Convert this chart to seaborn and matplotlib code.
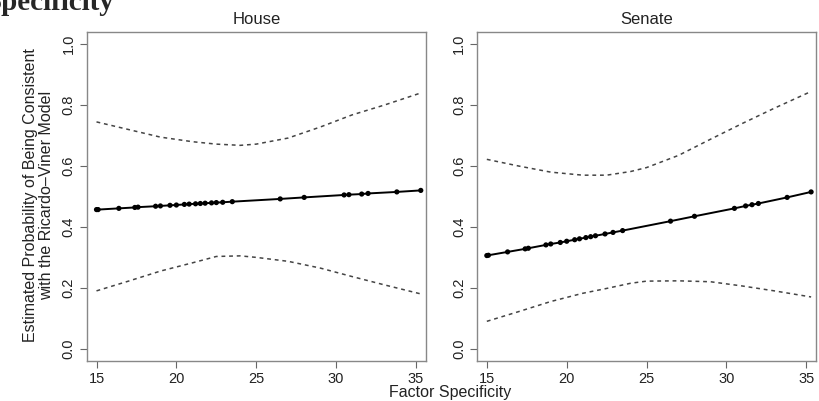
import numpy as np
import pandas as pd
import matplotlib
matplotlib.use("Agg")
import matplotlib.pyplot as plt
import seaborn as sns

# fitted line with observed factor specificity values
house_x = [15.0, 15.1, 16.4, 17.4, 17.6, 18.7, 19.0, 19.6, 20.0, 20.5, 20.8, 21.2, 21.5,
           21.8, 22.2, 22.5, 22.9, 23.5, 26.5, 28.0, 30.5, 30.8, 31.6, 32.0, 33.8, 35.3]
house_y = [0.457, 0.457, 0.461, 0.464, 0.465, 0.468, 0.469, 0.471, 0.472, 0.474, 0.475, 0.476, 0.477,
           0.478, 0.479, 0.480, 0.481, 0.483, 0.492, 0.497, 0.505, 0.506, 0.508, 0.510, 0.515, 0.520]
senate_x = [15.0, 15.1, 16.3, 17.4, 17.6, 18.7, 19.0, 19.6, 20.0, 20.5, 20.8, 21.2, 21.5,
            21.8, 22.4, 22.9, 23.5, 26.5, 28.0, 30.5, 31.2, 31.6, 32.0, 33.8, 35.3]
senate_y = [0.306, 0.307, 0.318, 0.328, 0.330, 0.341, 0.344, 0.349, 0.353, 0.358, 0.361, 0.365, 0.368,
            0.371, 0.377, 0.382, 0.388, 0.419, 0.435, 0.461, 0.469, 0.473, 0.477, 0.497, 0.515]

# confidence bands
band_x = [15, 17, 19, 21, 22.5, 24, 25, 27, 29, 31, 33, 35.3]
house_hi = [0.745, 0.72, 0.695, 0.68, 0.672, 0.668, 0.672, 0.692, 0.728, 0.768, 0.800, 0.840]
house_lo = [0.190, 0.222, 0.255, 0.282, 0.303, 0.305, 0.300, 0.287, 0.265, 0.237, 0.210, 0.180]
senate_hi = [0.622, 0.600, 0.580, 0.570, 0.570, 0.582, 0.595, 0.635, 0.688, 0.740, 0.790, 0.845]
senate_lo = [0.090, 0.122, 0.155, 0.182, 0.198, 0.215, 0.222, 0.223, 0.220, 0.206, 0.190, 0.170]

panels = ["House", "Senate"]
xticks = [15, 20, 25, 30, 35]
yticks = [0.0, 0.2, 0.4, 0.6, 0.8, 1.0]

sns.set_style("white")
plt.rcParams["font.family"] = ["Liberation Sans", "DejaVu Sans"]

fig = plt.figure(figsize=(8.2, 4.01), dpi=100)
ax1 = fig.add_axes([0.106, 0.1, 0.413, 0.82])
ax2 = fig.add_axes([0.582, 0.1, 0.413, 0.82])

data = [(ax1, house_x, house_y, house_hi, house_lo),
        (ax2, senate_x, senate_y, senate_hi, senate_lo)]

for (ax, xs, ys, hi, lo), name in zip(data, panels):
    df = pd.DataFrame({"x": xs, "y": ys})
    sns.lineplot(data=df, x="x", y="y", ax=ax, color="black", lw=1.4)
    sns.scatterplot(data=df, x="x", y="y", ax=ax, color="black", s=14, edgecolor="none")
    bands = pd.DataFrame({"x": band_x, "hi": hi, "lo": lo})
    for col in ["hi", "lo"]:
        sns.lineplot(data=bands, x="x", y=col, ax=ax, color="#444444", lw=1.1,
                     linestyle=(0, (2.5, 2.5)))
    ax.set_xlim(14.4, 35.6)
    ax.set_ylim(-0.04, 1.04)
    ax.set_xticks(xticks)
    ax.set_yticks(yticks)
    ax.set_xticklabels([str(t) for t in xticks], fontsize=10.5, color="#222222")
    ax.set_yticklabels([f"{t:.1f}" for t in yticks], fontsize=10.5, color="#222222",
                       rotation=90, va="center")
    ax.tick_params(axis="both", direction="out", length=5, width=0.8, color="#666666",
                   left=True, bottom=True, pad=3)
    for s in ax.spines.values():
        s.set_color("#888888")
        s.set_linewidth(1.0)
    ax.set_xlabel("")
    ax.set_ylabel("")
    ax.set_title(name, fontsize=12, color="#222222", pad=6)

fig.text(0.549, 0.022, "Factor Specificity", ha="center", va="center", fontsize=11.5, color="#222222")
fig.text(0.047, 0.513, "Estimated Probability of Being Consistent\nwith the Ricardo\u2013Viner Model",
         ha="center", va="center", rotation=90, fontsize=11.5, color="#222222", linespacing=1.1)
# heading from the page above, mostly cropped off in the source image
fig.text(-0.018, 0.995, "Specificity", ha="left", va="center", fontsize=21,
         fontweight="bold", family=["Liberation Serif", "DejaVu Serif"])

fig.savefig("out.png", dpi=100)
